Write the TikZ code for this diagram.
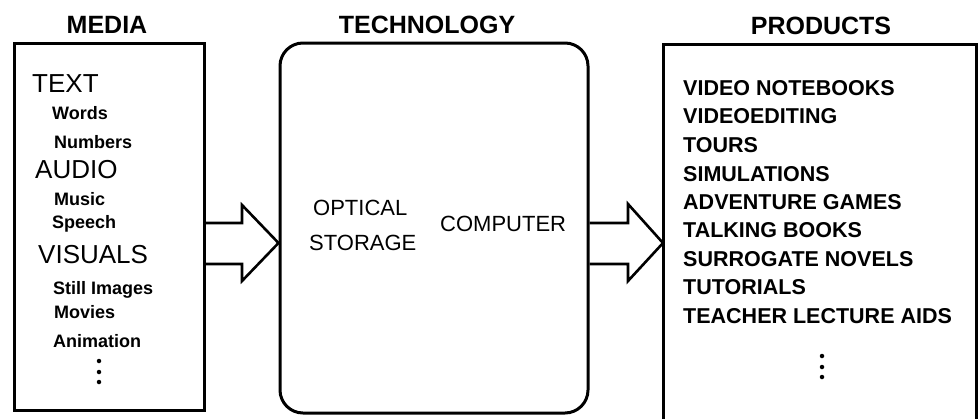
\documentclass[tikz,border=0pt]{standalone}
\usepackage{fontspec}
\setmainfont{Liberation Sans}
\begin{document}
\begin{tikzpicture}[x=1pt,y=-1pt,
  frame/.style={draw,line width=3pt,inner sep=0pt},
  blockarrow/.style={draw,line width=2.6pt,line join=miter},
  heading/.style={anchor=base,font=\fontsize{25}{25}\selectfont\bfseries,inner sep=0pt},
  bigitem/.style={anchor=base west,font=\fontsize{26}{26}\selectfont,inner sep=0pt},
  smallitem/.style={anchor=base west,font=\fontsize{18}{18}\selectfont\bfseries,inner sep=0pt},
  prod/.style={anchor=base west,font=\fontsize{21.5}{21.5}\selectfont\bfseries,inner sep=0pt},
  techtext/.style={anchor=base west,font=\fontsize{22}{22}\selectfont,inner sep=0pt},
  dot/.style={circle,fill,inner sep=0pt,minimum size=4.5pt}]
\useasboundingbox (0,0) rectangle (979,418);

% the three columns
\node[frame,minimum width=190pt,minimum height=367pt] (media) at (109,227) {};
\node[frame,rounded corners=23pt,minimum width=308pt,minimum height=370pt] (tech) at (434,228) {};
\coordinate (prodtl) at (663,44);
\coordinate (prodtr) at (976,44);
\draw[line width=3pt] (663,425) -- (prodtl) -- (prodtr) -- (976,425);

% headings
\node[heading] (hmedia) at (107,33) {MEDIA};
\node[heading] (htech) at (427,33) {TECHNOLOGY};
\node[heading] (hprod) at (821,34) {PRODUCTS};

% media list
\node[bigitem] (text) at (32,92) {TEXT};
\node[smallitem] (words) at (52,119) {Words};
\node[smallitem] (numbers) at (54,148) {Numbers};
\node[bigitem] (audio) at (35,178) {AUDIO};
\node[smallitem] (music) at (54,205) {Music};
\node[smallitem] (speech) at (52,228) {Speech};
\node[bigitem] (visuals) at (38,263) {VISUALS};
\node[smallitem] (still) at (53,294) {Still Images};
\node[smallitem] (movies) at (54,318) {Movies};
\node[smallitem] (anim) at (53,347) {Animation};
\node[dot] (md1) at (99,361) {};
\node[dot] (md2) at (99,372) {};
\node[dot] (md3) at (99,382) {};

% technology
\node[techtext] (optical) at (313,215) {OPTICAL};
\node[techtext] (storage) at (309,250) {STORAGE};
\node[techtext] (computer) at (440,231) {COMPUTER};

% products list
\node[prod] (p1) at (683,95) {VIDEO NOTEBOOKS};
\node[prod] (p2) at (683,123) {VIDEOEDITING};
\node[prod] (p3) at (683,152) {TOURS};
\node[prod] (p4) at (683,181) {SIMULATIONS};
\node[prod] (p5) at (683,209) {ADVENTURE GAMES};
\node[prod] (p6) at (683,237) {TALKING BOOKS};
\node[prod] (p7) at (683,266) {SURROGATE NOVELS};
\node[prod] (p8) at (683,294) {TUTORIALS};
\node[prod] (p9) at (683,323) {TEACHER LECTURE AIDS};
\node[dot] (pd1) at (822,356) {};
\node[dot] (pd2) at (822,367) {};
\node[dot] (pd3) at (822,377) {};

% hollow block arrows between the columns
\draw[blockarrow] (media.east |- 0,223) -- (242,223) -- (242,205)
  -- (tech.west |- 0,243) -- (242,281) -- (242,264) -- (media.east |- 0,264);
\draw[blockarrow] (tech.east |- 0,223) -- (628,223) -- (628,204)
  -- (prodtl |- 0,243) -- (628,281) -- (628,264) -- (tech.east |- 0,264);
\end{tikzpicture}
\end{document}
